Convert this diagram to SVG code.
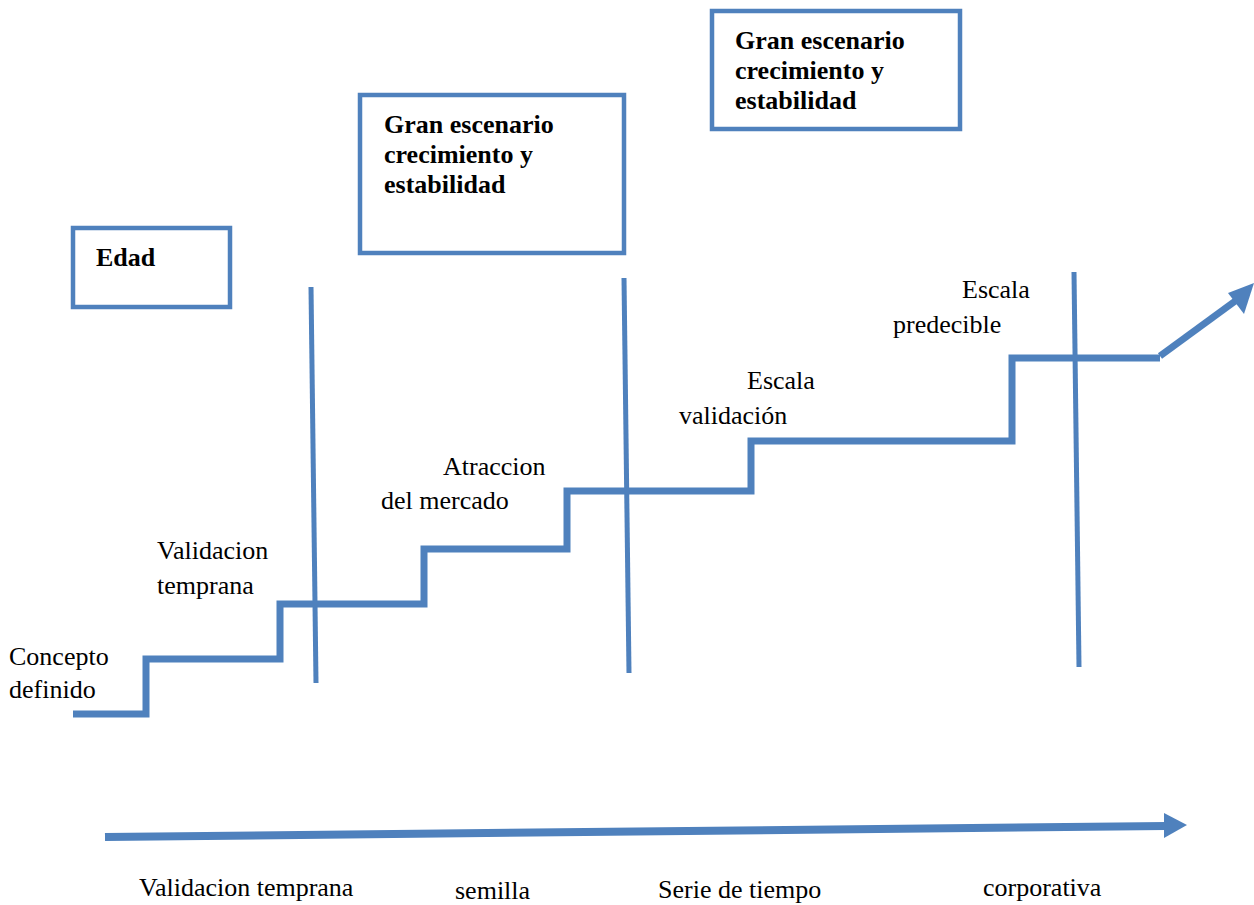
<svg xmlns="http://www.w3.org/2000/svg" width="1254" height="905" viewBox="0 0 1254 905">
<style>
.box{fill:#fff;stroke:#4f81bd;stroke-width:4.5}
.bt{font-family:'Liberation Serif','Times New Roman',Tinos,'DejaVu Serif',serif;font-size:26px;font-weight:bold;fill:#000}
.t{font-family:'Liberation Serif','Times New Roman',Tinos,'DejaVu Serif',serif;font-size:26px;fill:#000}
.ln{fill:none;stroke:#4f81bd;stroke-linecap:butt;stroke-linejoin:miter}
.hd{fill:#4f81bd}
</style>
<rect width="1254" height="905" fill="#fff"/>
<g id="connectors">
<line class="ln" x1="311" y1="287" x2="316" y2="683" stroke-width="5"/>
<line class="ln" x1="624" y1="278" x2="629" y2="673" stroke-width="5"/>
<line class="ln" x1="1074" y1="272" x2="1079" y2="667" stroke-width="5"/>
<polyline class="ln" stroke-width="7" points="73,714 146,714 146,659 280,659 280,604 424,604 424,549 567,549 567,491 751,491 751,441 1012,441 1012,358 1160,358"/>
<line class="ln" x1="1160" y1="356" x2="1238" y2="299" stroke-width="7"/>
<polygon class="hd" points="1254,283 1244,314 1228,293"/>
<line class="ln" x1="105" y1="837" x2="1166" y2="826" stroke-width="8"/>
<polygon class="hd" points="1164,813 1187,825 1164,838"/>
</g>
<g id="edad">
<rect class="box" x="73" y="228" width="157" height="79"/>
<text class="bt" x="96" y="266">Edad</text>
</g>
<g id="gran1">
<rect class="box" x="360" y="95" width="264" height="158"/>
<text class="bt" x="384" y="133">Gran escenario</text>
<text class="bt" x="384" y="163">crecimiento y</text>
<text class="bt" x="384" y="193">estabilidad</text>
</g>
<g id="gran2">
<rect class="box" x="712" y="11" width="248" height="118"/>
<text class="bt" x="735" y="49">Gran escenario</text>
<text class="bt" x="735" y="79">crecimiento y</text>
<text class="bt" x="735" y="109">estabilidad</text>
</g>
<g id="concepto">
<text class="t" x="9" y="665">Concepto</text>
<text class="t" x="9" y="698">definido</text>
</g>
<g id="validacion">
<text class="t" x="157" y="559">Validacion</text>
<text class="t" x="157" y="594">temprana</text>
</g>
<g id="atraccion">
<text class="t" x="443" y="475">Atraccion</text>
<text class="t" x="381" y="509">del mercado</text>
</g>
<g id="escala-validacion">
<text class="t" x="747" y="389">Escala</text>
<text class="t" x="679" y="424">validación</text>
</g>
<g id="escala-predecible">
<text class="t" x="962" y="298">Escala</text>
<text class="t" x="893" y="333">predecible</text>
</g>
<g id="stages">
<text class="t" x="139" y="896">Validacion temprana</text>
<text class="t" x="455" y="899">semilla</text>
<text class="t" x="658" y="898">Serie de tiempo</text>
<text class="t" x="983" y="896">corporativa</text>
</g>
</svg>
